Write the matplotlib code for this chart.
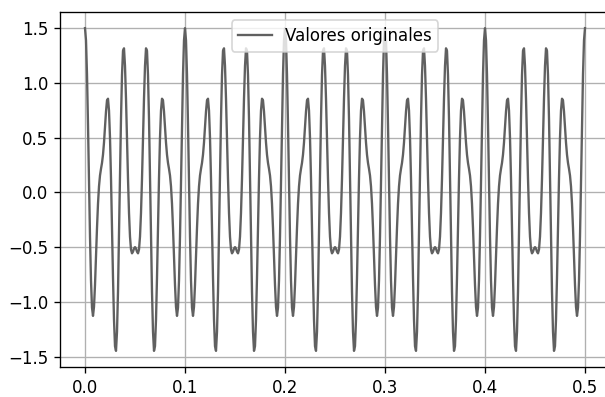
import matplotlib
matplotlib.use("Agg")
import matplotlib.pyplot as plt
import numpy as np

# signal: two cosines, period 0.1 s
freqs = [50, 80]        # Hz
amps = [1.0, 0.5]
fs = 1000               # samples per second
t_end = 0.5
label = "Valores originales"

t = np.linspace(0, t_end, int(t_end * fs) + 1)
y = np.zeros_like(t)
for f, a in zip(freqs, amps):
    y += a * np.cos(2 * np.pi * f * t)

dpi = 120
fig = plt.figure(figsize=(605 / dpi, 397 / dpi), dpi=dpi)
ax = fig.add_axes([60 / 605, 30 / 397, 550 / 605, 355 / 397])
ax.plot(t, y, color="#606060", lw=1.4, label=label)
ax.grid(True, color="#b0b0b0", lw=0.8)
ax.legend(loc="upper center")
fig.savefig("out.png", dpi=dpi)
